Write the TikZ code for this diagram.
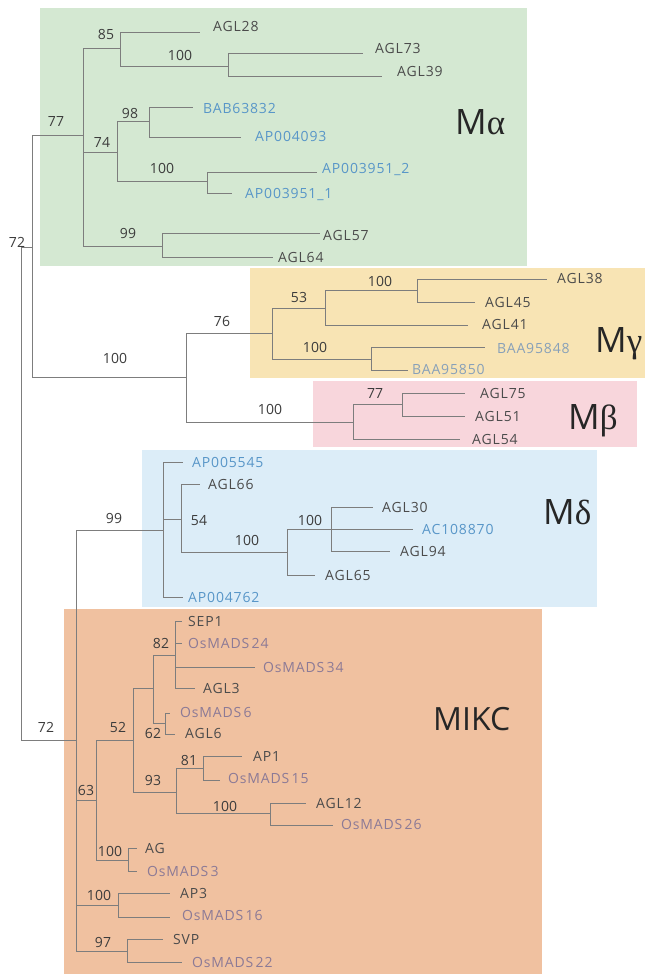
\documentclass[tikz,border=0pt]{standalone}
\usepackage{fontspec}
\setmainfont{Open Sans}
\newfontfamily\lblfont{Open Sans}[LetterSpace=6]
\newfontfamily\grk{Liberation Serif}
\definecolor{cgreen}{RGB}{212,232,210}
\definecolor{cyellow}{RGB}{248,228,180}
\definecolor{cpink}{RGB}{248,214,220}
\definecolor{cblue}{RGB}{220,237,248}
\definecolor{corange}{RGB}{240,193,160}
\definecolor{cline}{RGB}{125,125,125}
\definecolor{ctxt}{RGB}{75,75,75}
\definecolor{cnum}{RGB}{60,60,60}
\definecolor{cblu}{RGB}{88,150,200}
\definecolor{cbg}{RGB}{135,160,185}
\definecolor{cos}{RGB}{140,122,150}
\begin{document}
\begin{tikzpicture}[x=1pt,y=-1pt,
  br/.style={draw=cline, line width=0.8pt},
  box/.style={draw=none},
  lf/.style={anchor=west, inner sep=0pt, text height=10pt, text depth=0pt,
     font=\lblfont\fontsize{14}{14}\selectfont, text=ctxt},
  blu/.style={lf, text=cblu},
  bgr/.style={lf, text=cbg},
  osm/.style={lf, text=cos},
  bs/.style={inner sep=0pt, text height=10pt, text depth=0pt,
     font=\fontsize{14}{14}\selectfont, text=cnum},
  grp/.style={anchor=west, inner sep=0pt, text height=25pt, text depth=0pt,
     font=\fontsize{35}{35}\selectfont, text=black!85}]
\useasboundingbox (0,0) rectangle (646,974);
\fill[white] (0,0) rectangle (646,974);
% group boxes
\fill[cgreen]  (40,8)    rectangle (527,266);
\fill[cyellow] (250,268) rectangle (645,378);
\fill[cpink]   (313,381) rectangle (637,447);
\fill[cblue]   (142,450) rectangle (597,607);
\fill[corange] (64,609)  rectangle (542,974);
% group labels
\node[grp] (LMa) at (455,122) {M{\grk α}};
\node[grp] (LMg) at (595,340) {M{\grk γ}};
\node[grp] (LMb) at (568,417) {M{\grk β}};
\node[grp] (LMd) at (543,512) {M{\grk δ}};
\node[grp, font=\fontsize{32}{32}\selectfont, text height=23pt] (LMIKC) at (433,719) {MIKC};

% ---------- internal nodes ----------
\coordinate (r) at (21,493);
\coordinate (top) at (32,247);
\coordinate (bot) at (76,740);
\coordinate (Ma) at (83,135);
\coordinate (a85) at (120,48);
\coordinate (a100) at (228,66);
\coordinate (a74) at (117,152);
\coordinate (a98) at (149,121);
\coordinate (a100b) at (207,181);
\coordinate (a99) at (162,246);
\coordinate (Mgb) at (186,377);
\coordinate (g76) at (272,333);
\coordinate (g53) at (325,308);
\coordinate (g100) at (417,290);
\coordinate (g100b) at (371,359);
\coordinate (b100) at (353,422);
\coordinate (b77) at (402,404);
\coordinate (d99) at (163,530);
\coordinate (d54) at (181,519);
\coordinate (d100) at (287,552);
\coordinate (d100b) at (331,529);
\coordinate (m63) at (96,800);
\coordinate (m52) at (133,740);
\coordinate (ma) at (153,688);
\coordinate (m82) at (175,655);
\coordinate (m62) at (165,723);
\coordinate (m93) at (176,792);
\coordinate (m81) at (203,768);
\coordinate (m100d) at (270,813);
\coordinate (m100a) at (128,860);
\coordinate (m100c) at (118,905);
\coordinate (m97) at (127,951);

% ---------- leaf ends ----------
\coordinate (eAGL28) at (200,32);
\coordinate (eAGL73) at (363,53);
\coordinate (eAGL39) at (382,76);
\coordinate (eBAB63832) at (193,107);
\coordinate (eAP004093) at (241,137);
\coordinate (eAP3951b) at (317,172);
\coordinate (eAP3951a) at (232,193);
\coordinate (eAGL57) at (320,233);
\coordinate (eAGL64) at (273,257);
\coordinate (eAGL38) at (547,279);
\coordinate (eAGL45) at (475,302);
\coordinate (eAGL41) at (468,325);
\coordinate (eBAA95848) at (485,347);
\coordinate (eBAA95850) at (408,370);
\coordinate (eAGL75) at (465,393);
\coordinate (eAGL51) at (465,416);
\coordinate (eAGL54) at (460,439);
\coordinate (eAP005545) at (183,462);
\coordinate (eAGL66) at (200,484);
\coordinate (eAGL30) at (373,507);
\coordinate (eAC108870) at (413,529);
\coordinate (eAGL94) at (390,551);
\coordinate (eAGL65) at (315,575);
\coordinate (eAP004762) at (183,597);
\coordinate (eSEP1) at (182,621);
\coordinate (eOs24) at (182,643);
\coordinate (eOs34) at (255,667);
\coordinate (eAGL3) at (195,688);
\coordinate (eOs6) at (170,713);
\coordinate (eAGL6) at (175,734);
\coordinate (eAP1) at (242,756);
\coordinate (eOs15) at (220,780);
\coordinate (eAGL12) at (306,803);
\coordinate (eOs26) at (333,825);
\coordinate (eAG) at (137,848);
\coordinate (eOs3) at (137,871);
\coordinate (eAP3) at (170,893);
\coordinate (eOs16) at (170,917);
\coordinate (eSVP) at (163,939);
\coordinate (eOs22) at (182,962);

% ---------- branches ----------
\draw[br] (r) |- (top);
\draw[br] (r) |- (bot);
\draw[br] (top) |- (Ma);
\draw[br] (top) |- (Mgb);
\draw[br] (Ma) |- (a85);
\draw[br] (Ma) |- (a74);
\draw[br] (Ma) |- (a99);
\draw[br] (a85) |- (eAGL28);
\draw[br] (a85) |- (a100);
\draw[br] (a100) |- (eAGL73);
\draw[br] (a100) |- (eAGL39);
\draw[br] (a74) |- (a98);
\draw[br] (a74) |- (a100b);
\draw[br] (a98) |- (eBAB63832);
\draw[br] (a98) |- (eAP004093);
\draw[br] (a100b) |- (eAP3951b);
\draw[br] (a100b) |- (eAP3951a);
\draw[br] (a99) |- (eAGL57);
\draw[br] (a99) |- (eAGL64);
\draw[br] (Mgb) |- (g76);
\draw[br] (Mgb) |- (b100);
\draw[br] (g76) |- (g53);
\draw[br] (g76) |- (g100b);
\draw[br] (g53) |- (g100);
\draw[br] (g53) |- (eAGL41);
\draw[br] (g100) |- (eAGL38);
\draw[br] (g100) |- (eAGL45);
\draw[br] (g100b) |- (eBAA95848);
\draw[br] (g100b) |- (eBAA95850);
\draw[br] (b100) |- (b77);
\draw[br] (b100) |- (eAGL54);
\draw[br] (b77) |- (eAGL75);
\draw[br] (b77) |- (eAGL51);
\draw[br] (bot) |- (d99);
\draw[br] (bot) |- (m63);
\draw[br] (bot) |- (m100c);
\draw[br] (bot) |- (m97);
\draw[br] (d99) |- (eAP005545);
\draw[br] (d99) |- (d54);
\draw[br] (d99) |- (eAP004762);
\draw[br] (d54) |- (eAGL66);
\draw[br] (d54) |- (d100);
\draw[br] (d100) |- (d100b);
\draw[br] (d100) |- (eAGL65);
\draw[br] (d100b) |- (eAGL30);
\draw[br] (d100b) |- (eAC108870);
\draw[br] (d100b) |- (eAGL94);
\draw[br] (m63) |- (m52);
\draw[br] (m63) |- (m100a);
\draw[br] (m52) |- (ma);
\draw[br] (m52) |- (m93);
\draw[br] (ma) |- (m82);
\draw[br] (ma) |- (m62);
\draw[br] (m82) |- (eSEP1);
\draw[br] (m82) |- (eOs24);
\draw[br] (m82) |- (eOs34);
\draw[br] (m82) |- (eAGL3);
\draw[br] (m62) |- (eOs6);
\draw[br] (m62) |- (eAGL6);
\draw[br] (m93) |- (m81);
\draw[br] (m93) |- (m100d);
\draw[br] (m81) |- (eAP1);
\draw[br] (m81) |- (eOs15);
\draw[br] (m100d) |- (eAGL12);
\draw[br] (m100d) |- (eOs26);
\draw[br] (m100a) |- (eAG);
\draw[br] (m100a) |- (eOs3);
\draw[br] (m100c) |- (eAP3);
\draw[br] (m100c) |- (eOs16);
\draw[br] (m97) |- (eSVP);
\draw[br] (m97) |- (eOs22);

% ---------- leaf labels ----------
\node[lf]  (tAGL28) at (213,27) {AGL28};
\node[lf]  (tAGL73) at (375,48) {AGL73};
\node[lf]  (tAGL39) at (397,72) {AGL39};
\node[blu] (tBAB) at (203,108) {BAB63832};
\node[blu] (tAP4093) at (255,136) {AP004093};
\node[blu] (tAP3951b) at (322,168) {AP003951\_2};
\node[blu] (tAP3951a) at (245,193) {AP003951\_1};
\node[lf]  (tAGL57) at (323,235) {AGL57};
\node[lf]  (tAGL64) at (278,257) {AGL64};
\node[lf]  (tAGL38) at (557,278) {AGL38};
\node[lf]  (tAGL45) at (485,302) {AGL45};
\node[lf]  (tAGL41) at (482,324) {AGL41};
\node[bgr] (tBAA48) at (497,348) {BAA95848};
\node[bgr] (tBAA50) at (412,369) {BAA95850};
\node[lf]  (tAGL75) at (480,393) {AGL75};
\node[lf]  (tAGL51) at (475,416) {AGL51};
\node[lf]  (tAGL54) at (472,439) {AGL54};
\node[blu] (tAP5545) at (192,462) {AP005545};
\node[lf]  (tAGL66) at (208,484) {AGL66};
\node[lf]  (tAGL30) at (382,507) {AGL30};
\node[blu] (tAC) at (422,529) {AC108870};
\node[lf]  (tAGL94) at (400,551) {AGL94};
\node[lf]  (tAGL65) at (325,575) {AGL65};
\node[blu] (tAP4762) at (188,597) {AP004762};
\node[lf]  (tSEP1) at (188,621) {SEP1};
\node[osm] (tOs24) at (188,643) {OsMADS\,24};
\node[osm] (tOs34) at (263,667) {OsMADS\,34};
\node[lf]  (tAGL3) at (203,688) {AGL3};
\node[osm] (tOs6) at (180,712) {OsMADS\,6};
\node[lf]  (tAGL6) at (185,733) {AGL6};
\node[lf]  (tAP1) at (253,756) {AP1};
\node[osm] (tOs15) at (228,778) {OsMADS\,15};
\node[lf]  (tAGL12) at (316,803) {AGL12};
\node[osm] (tOs26) at (341,824) {OsMADS\,26};
\node[lf]  (tAG) at (145,848) {AG};
\node[osm] (tOs3) at (147,871) {OsMADS\,3};
\node[lf]  (tAP3) at (180,893) {AP3};
\node[osm] (tOs16) at (182,915) {OsMADS\,16};
\node[lf]  (tSVP) at (173,939) {SVP};
\node[osm] (tOs22) at (192,962) {OsMADS\,22};

% ---------- bootstrap values ----------
\node[bs] (n72a) at (17,242) {72};
\node[bs] (n77a) at (56,121) {77};
\node[bs] (n85) at (106,35) {85};
\node[bs] (n100a) at (180,55) {100};
\node[bs] (n74) at (102,142) {74};
\node[bs] (n98) at (130,113) {98};
\node[bs] (n100b) at (162,168) {100};
\node[bs] (n99a) at (128,233) {99};
\node[bs] (n100c) at (115,358) {100};
\node[bs] (n76) at (222,321) {76};
\node[bs] (n53) at (299,297) {53};
\node[bs] (n100d) at (380,281) {100};
\node[bs] (n100e) at (315,347) {100};
\node[bs] (n100f) at (270,409) {100};
\node[bs] (n77b) at (375,393) {77};
\node[bs] (n72b) at (46,727) {72};
\node[bs] (n99b) at (114,518) {99};
\node[bs] (n54) at (199,520) {54};
\node[bs] (n100g) at (247,540) {100};
\node[bs] (n100h) at (310,520) {100};
\node[bs] (n82) at (161,643) {82};
\node[bs] (n62) at (153,733) {62};
\node[bs] (n52) at (118,727) {52};
\node[bs] (n93) at (153,780) {93};
\node[bs] (n81) at (189,760) {81};
\node[bs] (n100i) at (225,806) {100};
\node[bs] (n63) at (86,790) {63};
\node[bs] (n100j) at (110,851) {100};
\node[bs] (n100k) at (99,895) {100};
\node[bs] (n97) at (103,942) {97};
\end{tikzpicture}
\end{document}
